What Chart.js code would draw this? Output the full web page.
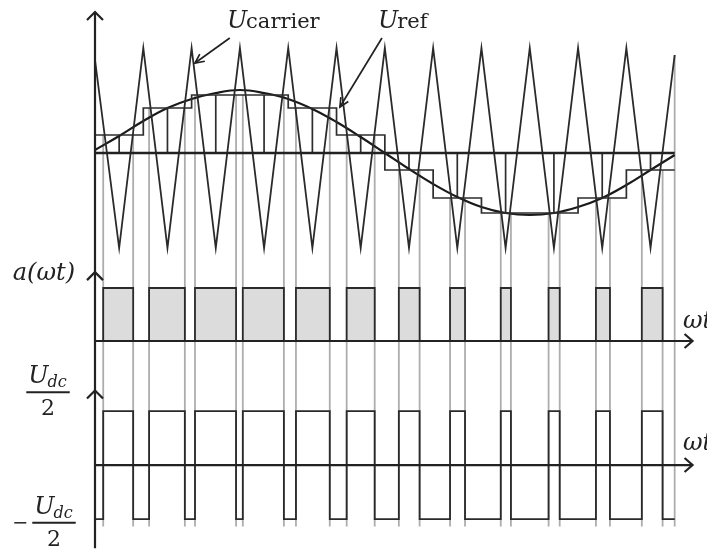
<!DOCTYPE html>
<html><head><meta charset="utf-8">
<script src="https://cdn.jsdelivr.net/npm/chart.js@4.4.1/dist/chart.umd.min.js"></script>
<style>html,body{margin:0;padding:0;background:#fff;}canvas{display:block;}</style>
</head><body>
<canvas id="c" width="707" height="551"></canvas>
<script>
// time axis in carrier periods (12 carrier periods = one reference period)
const carrierT = [0,0.5,1,1.5,2,2.5,3,3.5,4,4.5,5,5.5,6,6.5,7,7.5,8,8.5,9,9.5,10,10.5,11,11.5,12];
const carrierV = [0.93,-0.95,1.05,-0.95,1.05,-0.95,1.05,-0.95,1.05,-0.95,1.05,-0.95,1.05,-0.95,1.05,-0.95,1.05,-0.95,1.05,-0.95,1.05,-0.95,1.05,-0.95,0.98];
const refT = [0,0.5,1,1.5,2,2.5,3,3.5,4,4.5,5,5.5,6,6.5,7,7.5,8,8.5,9,9.5,10,10.5,11,11.5,12];
const refV = [0.03,0.17,0.32,0.45,0.54,0.60,0.63,0.60,0.54,0.44,0.31,0.16,0.00,-0.16,-0.31,-0.44,-0.54,-0.60,-0.62,-0.60,-0.54,-0.45,-0.32,-0.17,-0.02];
const stepT = [0,1,2,3,4,5,6,7,8,9,10,11];
const stepV = [0.18,0.45,0.58,0.58,0.45,0.18,-0.17,-0.45,-0.60,-0.60,-0.45,-0.17];
const sampleT = [0.5,1.5,2.5,3.5,4.5,5.5,6.5,7.5,8.5,9.5,10.5,11.5];
const riseT = [0.17,1.12,2.07,3.06,4.16,5.21,6.29,7.35,8.40,9.39,10.37,11.32];
const fallT = [0.79,1.86,2.92,3.91,4.86,5.79,6.72,7.66,8.61,9.62,10.66,11.75];
const aLow = 0, aHigh = 1;          // switching function a(ωt)
const outLow = -0.5, outHigh = 0.5; // output in units of Udc

const tEnd = carrierT[carrierT.length - 1];

// build point lists from the arrays
const carrierPts = carrierT.map((t, i) => ({x: t, y: carrierV[i]}));
const refPts = refT.map((t, i) => ({x: t, y: refV[i]}));
const stairPts = stepT.map((t, i) => ({x: t, y: stepV[i]}));
stairPts.push({x: tEnd, y: stepV[stepV.length - 1]});
const samplePts = [];
sampleT.forEach((t, i) => { samplePts.push({x: t, y: 0}, {x: t, y: stepV[i]}, {x: t, y: null}); });
function pulseTrain(lo, hi) {
  const p = [{x: 0, y: lo}];
  riseT.forEach((r, i) => { p.push({x: r, y: lo}, {x: r, y: hi}, {x: fallT[i], y: hi}, {x: fallT[i], y: lo}); });
  p.push({x: tEnd, y: lo});
  return p;
}

const INK = '#222';
const SERIF = '"DejaVu Serif", "Liberation Serif", serif';

function chevronUp(ctx, x, y) {
  ctx.beginPath(); ctx.moveTo(x - 8, y + 8); ctx.lineTo(x, y); ctx.lineTo(x + 8, y + 8); ctx.stroke();
}
function chevronRight(ctx, x, y) {
  ctx.beginPath(); ctx.moveTo(x - 8, y - 7); ctx.lineTo(x, y); ctx.lineTo(x - 8, y + 7); ctx.stroke();
}
function arrowLine(ctx, x1, y1, x2, y2) {
  ctx.beginPath(); ctx.moveTo(x1, y1); ctx.lineTo(x2, y2); ctx.stroke();
  const a = Math.atan2(y2 - y1, x2 - x1), L = 10;
  ctx.beginPath();
  ctx.moveTo(x2 - L * Math.cos(a - 0.45), y2 - L * Math.sin(a - 0.45));
  ctx.lineTo(x2, y2);
  ctx.lineTo(x2 - L * Math.cos(a + 0.45), y2 - L * Math.sin(a + 0.45));
  ctx.stroke();
}
function fraction(ctx, cx, barY, minus) {
  ctx.fillStyle = INK;
  ctx.font = 'italic 24px ' + SERIF;
  const wU = ctx.measureText('U').width;
  ctx.font = 'italic 16px ' + SERIF;
  const wS = ctx.measureText('dc').width;
  const w = wU + wS;
  const left = cx - w / 2;
  ctx.textAlign = 'left'; ctx.textBaseline = 'alphabetic';
  ctx.font = 'italic 24px ' + SERIF;
  ctx.fillText('U', left, barY - 9);
  ctx.font = 'italic 16px ' + SERIF;
  ctx.fillText('dc', left + wU - 1, barY - 5);
  ctx.lineWidth = 2; ctx.strokeStyle = INK;
  ctx.beginPath(); ctx.moveTo(left - 2, barY); ctx.lineTo(left + w + 2, barY); ctx.stroke();
  ctx.font = '22px ' + SERIF; ctx.textAlign = 'center';
  ctx.fillText('2', cx, barY + 23);
  if (minus) {
    ctx.beginPath(); ctx.moveTo(left - 20, barY); ctx.lineTo(left - 8, barY); ctx.lineWidth = 1.5; ctx.stroke();
  }
}

const overlay = {
  id: 'overlay',
  beforeDatasetsDraw(chart) {
    const {ctx, scales: {x, yTop, yBot}} = chart;
    ctx.save();
    ctx.strokeStyle = '#adadad'; ctx.lineWidth = 1.8;
    const bottom = yBot.getPixelForValue(outLow - 0.07);
    riseT.concat(fallT).forEach(t => {
      const k = Math.min(stepV.length - 1, Math.floor(t));
      const px = x.getPixelForValue(t);
      ctx.beginPath(); ctx.moveTo(px, yTop.getPixelForValue(stepV[k])); ctx.lineTo(px, bottom); ctx.stroke();
    });
    const pe = x.getPixelForValue(tEnd);
    ctx.beginPath(); ctx.moveTo(pe, yTop.getPixelForValue(carrierV[carrierV.length - 1])); ctx.lineTo(pe, bottom); ctx.stroke();
    ctx.restore();
  },
  afterDatasetsDraw(chart) {
    const {ctx, scales: {x, yTop, yMid, yBot}} = chart;
    ctx.save();
    ctx.strokeStyle = INK; ctx.fillStyle = INK; ctx.lineWidth = 2.2;
    const x0 = x.getPixelForValue(0), xr = x.getPixelForValue(12.37);
    // vertical axis through all panels
    ctx.beginPath(); ctx.moveTo(x0, yTop.getPixelForValue(1.41)); ctx.lineTo(x0, yBot.getPixelForValue(-0.77)); ctx.stroke();
    chevronUp(ctx, x0, yTop.getPixelForValue(1.41));
    chevronUp(ctx, x0, yMid.getPixelForValue(1.30));
    chevronUp(ctx, x0, yBot.getPixelForValue(0.69));
    // horizontal axes
    [yMid, yBot].forEach(s => {
      const py = s.getPixelForValue(0);
      ctx.beginPath(); ctx.moveTo(x0, py); ctx.lineTo(xr, py); ctx.stroke();
      chevronRight(ctx, xr, py);
    });
    // ωt labels
    ctx.font = 'italic 24px ' + SERIF; ctx.textAlign = 'left'; ctx.textBaseline = 'alphabetic';
    ctx.fillText('ωt', x.getPixelForValue(12.17), yMid.getPixelForValue(0) - 13);
    ctx.fillText('ωt', x.getPixelForValue(12.17), yBot.getPixelForValue(0) - 15);
    // a(ωt)
    ctx.textAlign = 'right';
    ctx.fillText('a(ωt)', x0 - 20, yMid.getPixelForValue(1.30) + 8);
    // Udc/2 fractions
    fraction(ctx, 48, yBot.getPixelForValue(0.675), false);
    fraction(ctx, 54, yBot.getPixelForValue(-0.535), true);
    // Ucarrier label + arrow
    ctx.textAlign = 'left';
    ctx.font = 'italic 24px ' + SERIF;
    let lx = x.getPixelForValue(2.73), ly = yTop.getPixelForValue(1.25);
    ctx.fillText('U', lx, ly);
    let w = ctx.measureText('U').width;
    ctx.font = '21px ' + SERIF;
    ctx.fillText('carrier', lx + w - 1, ly);
    ctx.lineWidth = 1.7;
    arrowLine(ctx, x.getPixelForValue(2.79), yTop.getPixelForValue(1.15), x.getPixelForValue(2.07), yTop.getPixelForValue(0.90));
    // Uref label + arrow
    ctx.font = 'italic 24px ' + SERIF;
    lx = x.getPixelForValue(5.86);
    ctx.fillText('U', lx, ly);
    w = ctx.measureText('U').width;
    ctx.font = '21px ' + SERIF;
    ctx.fillText('ref', lx + w - 1, ly);
    arrowLine(ctx, x.getPixelForValue(5.94), yTop.getPixelForValue(1.15), x.getPixelForValue(5.07), yTop.getPixelForValue(0.46));
    ctx.restore();
  }
};

new Chart(document.getElementById('c'), {
  type: 'line',
  data: {
    datasets: [
      {data: [{x: 0, y: 0}, {x: tEnd, y: 0}], yAxisID: 'yTop', borderColor: INK, borderWidth: 2.4},
      {data: carrierPts, yAxisID: 'yTop', borderColor: '#2a2a2a', borderWidth: 1.8},
      {data: stairPts, yAxisID: 'yTop', borderColor: '#2e2e2e', borderWidth: 1.7, stepped: 'before'},
      {data: refPts, yAxisID: 'yTop', borderColor: '#1a1a1a', borderWidth: 2.2, tension: 0.4},
      {data: samplePts, yAxisID: 'yTop', borderColor: '#2e2e2e', borderWidth: 1.7, spanGaps: false},
      {data: pulseTrain(aLow, aHigh), yAxisID: 'yMid', borderColor: '#2a2a2a', borderWidth: 1.8, fill: 'origin', backgroundColor: '#dcdcdc'},
      {data: pulseTrain(outLow, outHigh), yAxisID: 'yBot', borderColor: '#2a2a2a', borderWidth: 1.8}
    ]
  },
  options: {
    responsive: false,
    animation: false,
    events: [],
    layout: {padding: {left: 95, right: 13, top: 5, bottom: 0}},
    elements: {point: {radius: 0}, line: {tension: 0}},
    plugins: {legend: {display: false}, tooltip: {enabled: false}},
    scales: {
      x: {type: 'linear', min: 0, max: 12.4, display: false},
      yBot: {type: 'linear', position: 'left', stack: 'panels', stackWeight: 181, min: -0.796, max: 0.88, display: false},
      yMid: {type: 'linear', position: 'left', stack: 'panels', stackWeight: 112, min: -0.547, max: 1.566, display: false},
      yTop: {type: 'linear', position: 'left', stack: 'panels', stackWeight: 253, min: -1.05, max: 1.48, display: false}
    }
  },
  plugins: [overlay]
});
</script>
</body></html>
